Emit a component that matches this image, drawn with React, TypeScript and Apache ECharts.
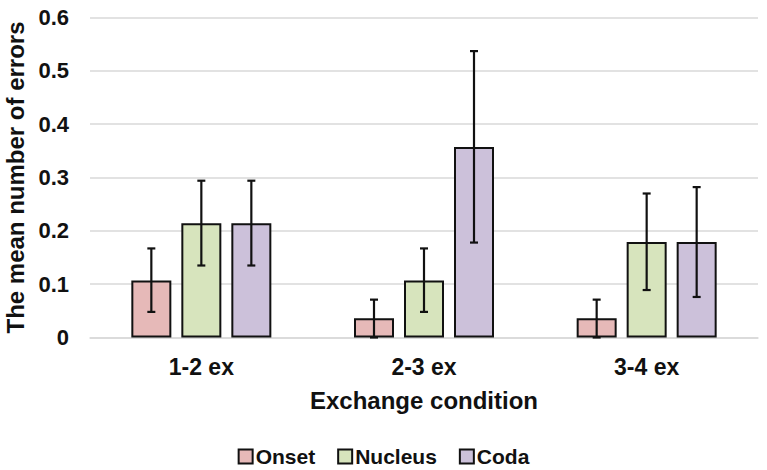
import React, { useEffect, useRef } from "react";
import * as echarts from "echarts";

const categories = ["1-2 ex", "2-3 ex", "3-4 ex"];
const seriesNames = ["Onset", "Nucleus", "Coda"];
const onset = [0.107, 0.036, 0.036];
const nucleus = [0.214, 0.107, 0.179];
const coda = [0.214, 0.357, 0.179];
// error bar ranges (low, high) per category
const onsetLow = [0.048, 0.0, 0.0];
const onsetHigh = [0.167, 0.071, 0.071];
const nucleusLow = [0.135, 0.048, 0.089];
const nucleusHigh = [0.294, 0.167, 0.27];
const codaLow = [0.135, 0.178, 0.076];
const codaHigh = [0.294, 0.537, 0.282];
const yTicks = [0, 0.1, 0.2, 0.3, 0.4, 0.5, 0.6];

const colors = ["#e6b9b8", "#d7e4bd", "#ccc1da"];
const BAR_WIDTH = 40;
const BAR_GAP = 0.25;
const FONT = "'Liberation Sans', Arial, sans-serif";

export default function App() {
  const ref = useRef<HTMLDivElement>(null);

  useEffect(() => {
    if (!ref.current) return;
    const chart = echarts.init(ref.current, undefined, { renderer: "svg" });
    const values = [onset, nucleus, coda];
    const lows = [onsetLow, nucleusLow, codaLow];
    const highs = [onsetHigh, nucleusHigh, codaHigh];

    const errData: number[][] = [];
    for (let s = 0; s < 3; s++) {
      for (let c = 0; c < categories.length; c++) {
        errData.push([c, lows[s][c], highs[s][c], s]);
      }
    }
    const step = BAR_WIDTH * (1 + BAR_GAP);

    const barSeries = seriesNames.map((name, i) => ({
      name,
      type: "bar",
      data: values[i],
      barWidth: BAR_WIDTH,
      barGap: `${BAR_GAP * 100}%`,
      itemStyle: { color: colors[i], borderColor: "#111", borderWidth: 2 },
      z: 2,
    }));

    chart.setOption({
      animation: false,
      textStyle: { fontFamily: FONT },
      grid: { left: 90, right: 9, top: 17.5, bottom: 132.5, containLabel: false, outerBoundsMode: "none" },
      legend: {
        bottom: -2,
        left: "center",
        icon: "rect",
        itemWidth: 14,
        itemHeight: 14,
        itemGap: 22,
        data: seriesNames,
        textStyle: { fontSize: 21, fontWeight: "bold", color: "#111", fontFamily: FONT, padding: [0, 0, 0, -2] },
      },
      xAxis: {
        type: "category",
        data: categories,
        name: "Exchange condition",
        nameLocation: "middle",
        nameGap: 51,
        nameTextStyle: { fontSize: 24, fontWeight: "bold", color: "#111", fontFamily: FONT },
        axisLine: { show: true, lineStyle: { color: "#d9d9d9", width: 1.5 } },
        axisTick: { show: false },
        axisLabel: { fontSize: 23, fontWeight: "bold", color: "#111", margin: 18, fontFamily: FONT },
      },
      yAxis: {
        type: "value",
        min: yTicks[0],
        max: yTicks[yTicks.length - 1],
        interval: 0.1,
        name: "The mean number of errors",
        nameLocation: "middle",
        nameGap: 62,
        nameTextStyle: { fontSize: 24, fontWeight: "bold", color: "#111", fontFamily: FONT },
        axisLine: { show: false },
        axisTick: { show: false },
        splitLine: { lineStyle: { color: "#d9d9d9", width: 1.5 } },
        axisLabel: {
          fontSize: 22,
          fontWeight: "bold",
          color: "#111",
          margin: 21,
          fontFamily: FONT,
          formatter: (v: number) => (v === 0 ? "0" : v.toFixed(1)),
        },
      },
      series: [
        ...barSeries,
        {
          type: "custom",
          name: "error",
          data: errData,
          z: 5,
          encode: { x: 0, y: [1, 2] },
          renderItem: (params: any, api: any) => {
            const c = api.value(0);
            const lo = api.value(1);
            const hi = api.value(2);
            const s = api.value(3);
            const p1 = api.coord([c, lo]);
            const p2 = api.coord([c, hi]);
            const x = p1[0] + (s - 1) * step;
            const cap = 4;
            const style = { stroke: "#111", lineWidth: 2.2, fill: null };
            return {
              type: "group",
              children: [
                { type: "line", shape: { x1: x, y1: p1[1], x2: x, y2: p2[1] }, style },
                { type: "line", shape: { x1: x - cap, y1: p2[1], x2: x + cap, y2: p2[1] }, style },
                { type: "line", shape: { x1: x - cap, y1: p1[1], x2: x + cap, y2: p1[1] }, style },
              ],
            };
          },
        },
      ],
    });
    return () => chart.dispose();
  }, []);

  return <div ref={ref} style={{ width: 767, height: 470, position: "absolute", left: 0, top: 0, background: "#fff" }} />;
}
